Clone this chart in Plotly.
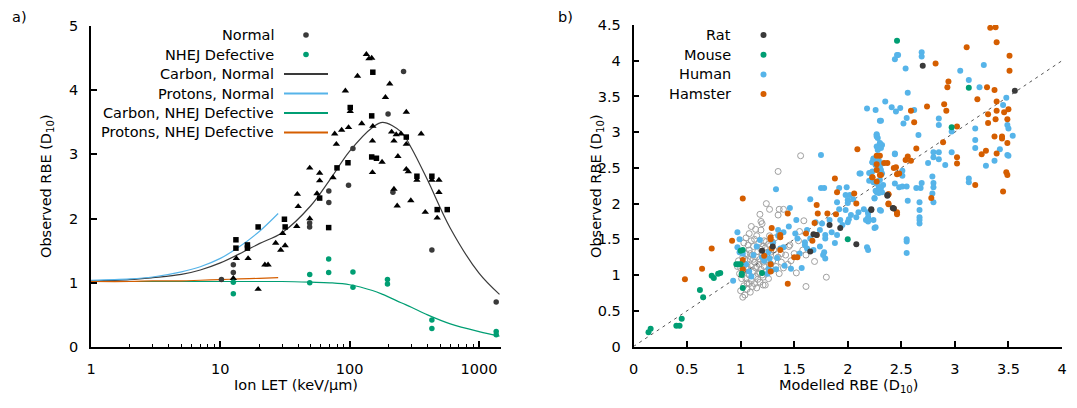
import plotly.graph_objects as go

# page has an 8px body margin, so the figure is sized to fit the 1077x408 window
W, H = 1061, 392
OFF = 8

# ---------------- Panel a) data ----------------
circle_let = [10.2, 12.6, 12.6, 49, 49, 69, 69, 98, 106, 198, 216, 261, 432, 1358]
circle_rbe = [1.05, 1.28, 1.16, 1.93, 1.87, 2.43, 2.25, 2.52, 3.09, 3.63, 2.41, 4.29, 1.51, 0.70]

square_let = [13.2, 13.2, 16.2, 16.2, 19.6, 31.3, 31.7, 58.6, 68.8, 79.8, 97, 101, 148, 148, 161, 151,
              274, 331, 432, 475, 568]
square_rbe = [1.67, 1.54, 1.59, 1.54, 1.87, 1.99, 1.87, 2.32, 1.86, 2.79, 2.87, 3.73, 3.60, 2.96, 2.94, 4.28,
              3.27, 2.66, 2.66, 2.14, 2.14]

tri_let = [13.3, 12.6, 16.4, 19.6, 22.1, 23.4, 26.8, 29.3, 31.7, 30.3, 39.4, 40, 39, 49.1, 49.1, 55.9,
           58.6, 58.6, 74.3, 76.6, 78.9, 86.7, 92.6, 98, 101, 115, 124, 134.6, 141, 148, 150, 150, 151,
           178, 189, 204, 211, 220, 220, 229, 233, 236, 249, 274, 274, 274, 284, 297, 331, 357, 384,
           432, 475, 490, 490]
tri_rbe = [1.38, 1.07, 1.38, 0.90, 1.28, 1.28, 1.62, 1.51, 1.58, 1.77, 2.38, 2.19, 1.88, 2.00, 2.79, 2.39,
           2.59, 2.71, 2.64, 3.32, 3.16, 3.38, 3.99, 3.42, 3.67, 4.22, 3.48, 4.56, 4.49, 4.50, 3.21, 2.72, 3.44,
           2.88, 3.89, 4.10, 3.35, 3.21, 2.46, 3.31, 2.20, 2.97, 3.32, 3.66, 3.16, 2.77, 2.73, 2.28, 2.60, 3.32, 2.10,
           2.60, 2.01, 2.60, 2.41]

nhej_let = [12.6, 12.6, 49.1, 49.1, 68.8, 68.8, 106, 106, 196, 196, 432, 432, 1358, 1358]
nhej_rbe = [1.01, 0.83, 1.13, 1.00, 1.37, 1.16, 1.17, 0.93, 1.05, 0.98, 0.42, 0.29, 0.24, 0.19]

carbon_let = [1, 2, 3, 5, 7, 10, 15, 20, 30, 50, 70, 100, 150, 180, 250, 300, 400, 600, 1000, 1440]
carbon_normal = [1.03, 1.05, 1.08, 1.13, 1.20, 1.31, 1.48, 1.61, 1.78, 2.20, 2.60, 3.05, 3.42, 3.50, 3.35,
                 3.10, 2.60, 1.85, 1.15, 0.82]
carbon_nhej = [1.02, 1.02, 1.02, 1.02, 1.02, 1.02, 1.02, 1.02, 1.02, 1.01, 1.00, 0.97, 0.88, 0.82, 0.69,
               0.62, 0.50, 0.36, 0.24, 0.17]

proton_let = [1, 2, 3, 5, 7, 10, 14, 20, 28]
protons_normal = [1.04, 1.06, 1.09, 1.17, 1.25, 1.38, 1.56, 1.80, 2.08]
protons_nhej = [1.02, 1.02, 1.03, 1.03, 1.04, 1.05, 1.06, 1.07, 1.08]

# ---------------- Panel b) data ----------------
rat_x = [1.20, 1.30, 1.68, 1.71, 1.65, 1.83, 1.93, 2.08, 2.22, 2.42, 2.37, 2.70, 3.56, 2.37, 2.43, 2.22]
rat_y = [1.34, 1.40, 1.57, 1.56, 1.33, 1.70, 1.66, 1.43, 1.92, 1.94, 2.12, 3.93, 3.58, 2.11, 1.93, 1.91]

mouse_x = [0.14, 0.16, 0.40, 0.43, 0.45, 0.62, 0.73, 0.79, 1.02, 1.00, 0.96, 0.98, 1.00, 1.01, 1.01, 1.02,
           1.20, 0.81, 0.75, 0.65, 2.00, 2.46, 3.13, 2.97]
mouse_y = [0.20, 0.25, 0.29, 0.29, 0.39, 0.79, 0.99, 1.02, 1.35, 1.34, 1.15, 1.15, 1.15, 1.00, 1.02, 0.82,
           1.03, 1.03, 0.96, 0.69, 1.50, 4.28, 3.62, 3.07]

human_x = [2.30, 2.27, 2.28, 2.30, 2.29, 2.32, 2.24, 2.23, 2.26, 2.30, 2.23, 2.30, 2.24, 2.33, 2.29, 2.27,
           2.32, 2.25, 2.30, 2.24, 2.19, 2.19, 2.26, 2.15, 2.11, 2.44, 2.48, 1.75, 1.33, 1.65, 1.75, 1.78,
           1.92, 1.99, 2.02, 2.00, 1.90, 1.92, 1.98, 2.03, 2.01, 2.08, 2.17, 2.00, 1.93, 1.90, 1.83, 1.76,
           1.74, 1.79, 1.79, 1.74, 1.78, 1.77, 1.79, 1.70, 1.62, 1.65, 1.60, 1.62, 1.52, 1.51, 1.53, 1.46,
           1.40, 1.40, 1.35, 1.37, 1.34, 1.33, 1.26, 1.27, 1.28, 1.26, 1.29, 0.97, 0.97, 0.99, 1.02, 0.99,
           0.93, 1.25, 1.20, 1.41, 1.47, 1.57, 2.18, 2.19, 1.98, 2.00, 2.05, 2.10,
           2.46, 2.47, 2.44, 2.69, 2.69, 2.54, 3.27, 3.05, 3.13, 3.23, 2.56, 2.35, 2.18, 2.26, 2.41, 2.45,
           2.49, 2.62, 2.55, 2.52, 2.31, 2.85, 2.85, 3.48, 3.45, 3.19, 3.49, 3.50, 3.54, 3.19, 3.19, 2.97,
           2.66, 2.27, 2.27, 2.27, 2.30, 2.31, 2.28, 2.24, 2.23, 2.29, 2.27, 2.32, 2.44, 2.80, 2.80, 2.85,
           2.85, 2.75, 2.97, 2.91, 3.42, 3.49, 3.50, 3.37, 3.29, 2.12, 2.20, 2.31, 2.32, 2.20, 2.51, 2.51,
           2.51, 2.55, 2.44, 2.28, 2.31, 2.26, 2.29, 2.25, 2.79, 2.80, 2.80, 2.79, 2.80, 2.69, 2.68, 2.64,
           2.56, 2.67, 2.67, 2.67, 2.67, 2.67, 3.13, 3.13, 2.31, 2.19, 2.19, 2.19, 2.25, 2.55, 2.55, 2.55,
           1.05, 1.08, 1.12, 1.15, 1.18, 1.22, 1.10, 1.30, 1.35, 1.45, 1.55, 1.60, 1.68, 1.85, 1.88, 1.95]
human_y = [3.16, 2.96, 2.92, 2.84, 2.80, 2.82, 2.63, 2.58, 2.54, 2.51, 2.45, 2.33, 2.30, 2.26, 2.21, 2.16,
           2.16, 2.07, 1.91, 1.77, 1.81, 1.88, 1.67, 1.92, 2.42, 2.70, 2.23, 2.68, 2.20, 2.06, 2.22, 2.22,
           2.22, 2.23, 2.12, 2.05, 2.02, 1.92, 1.91, 1.84, 1.78, 1.81, 1.77, 1.74, 1.77, 1.56, 1.77, 1.72,
           1.63, 1.56, 1.51, 1.40, 1.32, 1.28, 1.23, 1.74, 1.63, 1.51, 1.46, 1.37, 1.77, 1.58, 1.51, 1.94,
           1.60, 1.39, 1.63, 1.37, 1.24, 1.08, 1.32, 1.23, 1.16, 1.09, 1.06, 1.60, 1.39, 1.32, 1.30, 1.50,
           0.92, 1.02, 1.25, 1.13, 1.09, 1.10, 1.39, 1.35, 2.12, 2.01, 2.06, 1.88,
           4.08, 4.08, 4.02, 4.12, 4.06, 3.89, 3.94, 3.86, 3.73, 3.63, 3.55, 3.43, 3.33, 3.31, 3.35, 3.29,
           3.34, 3.31, 3.20, 3.12, 3.16, 3.19, 3.10, 3.48, 3.38, 3.05, 3.10, 3.05, 2.95, 2.89, 2.78, 3.01,
           2.96, 2.97, 2.94, 2.80, 2.85, 2.78, 2.75, 2.62, 2.58, 2.60, 2.56, 2.56, 2.69, 2.72, 2.65, 2.72,
           2.62, 2.57, 2.72, 2.54, 2.76, 2.68, 2.67, 2.60, 2.53, 2.42, 2.43, 2.47, 2.42, 2.32, 2.46, 2.39,
           2.24, 2.24, 2.28, 2.27, 2.22, 2.18, 2.15, 2.08, 2.38, 2.29, 2.23, 2.14, 2.02, 2.29, 2.22, 2.22,
           2.04, 2.02, 1.91, 1.81, 1.77, 1.72, 2.35, 2.30, 1.90, 1.86, 1.79, 1.75, 1.66, 1.50, 1.47, 1.31,
           1.15, 1.05, 1.28, 1.40, 1.49, 1.20, 0.98, 1.45, 1.55, 1.68, 1.30, 1.42, 1.35, 1.60, 1.45, 1.70]

hamster_x = [2.09, 2.30, 2.37, 2.45, 2.48, 2.27, 2.30, 2.23, 1.88, 1.90, 2.06, 2.08, 2.38, 2.38, 2.43, 2.46,
             1.71, 1.72, 1.81, 1.89, 1.69, 1.71, 1.67, 1.61, 1.44, 1.02, 1.29, 1.37, 1.37, 1.28, 1.28, 1.37,
             1.29, 1.22, 1.50, 1.53, 1.28, 1.28, 1.02, 1.02, 0.92, 0.73, 0.64, 1.44, 0.48,
             3.33, 3.38, 3.39, 3.11, 3.51, 2.82, 3.51, 2.94, 2.93, 3.30, 3.37, 3.21, 3.39, 2.90, 2.92, 2.59,
             2.74, 2.62, 3.31, 3.39, 3.46, 3.50, 3.49, 3.38, 3.31, 3.02, 3.37, 3.44, 3.44, 3.49, 2.89, 2.64,
             3.29, 3.25, 3.39, 3.02, 3.02, 2.56, 2.54, 2.59, 3.48, 3.49, 3.19, 3.45, 2.27, 2.27, 2.34, 2.43,
             2.46, 2.31, 2.23, 2.27, 2.38, 2.78, 2.38, 2.46]
hamster_y = [2.76, 2.67, 2.57, 2.51, 2.42, 2.47, 2.40, 2.37, 2.35, 2.16, 2.14, 2.00, 2.13, 2.00, 1.93, 1.85,
             1.98, 1.86, 1.86, 1.85, 1.73, 1.56, 1.48, 1.58, 1.86, 2.07, 1.66, 1.56, 1.53, 1.53, 1.50, 1.35,
             1.37, 1.27, 1.25, 1.25, 1.15, 1.05, 1.21, 1.08, 1.48, 1.37, 1.09, 0.88, 0.94,
             4.46, 4.47, 4.26, 4.19, 4.07, 3.96, 3.86, 3.71, 3.63, 3.63, 3.59, 3.46, 3.43, 3.39, 3.30, 3.30,
             3.36, 3.14, 3.25, 3.30, 3.28, 3.32, 3.18, 3.18, 3.13, 3.08, 2.94, 2.94, 2.91, 2.85, 2.86, 2.77,
             2.74, 2.69, 2.70, 2.65, 2.56, 2.66, 2.61, 2.60, 2.44, 2.40, 2.26, 2.17, 2.67, 2.55, 2.57, 2.50,
             2.41, 2.40, 2.37, 2.31, 2.13, 2.08, 1.99, 1.88]

other_x = [1.56, 1.35, 1.24, 1.27, 1.18, 1.36, 1.40, 1.35, 1.19, 1.20, 1.10, 1.14, 1.19, 1.59, 1.55, 1.54,
           1.61, 1.69, 1.80, 1.61, 1.52, 1.45, 1.46, 1.26, 1.21, 1.23, 1.02, 1.06, 1.58, 1.50, 1.38, 1.47,
           1.32, 1.30, 1.28, 1.22, 1.15, 1.08, 1.05, 1.03,
           0.98, 1.00, 1.02, 1.03, 1.04, 1.05, 1.05, 1.06, 1.07, 1.08, 1.08, 1.09, 1.10, 1.10, 1.11, 1.12,
           1.12, 1.13, 1.14, 1.14, 1.15, 1.16, 1.16, 1.17, 1.18, 1.18, 1.19, 1.20, 1.20, 1.21, 1.22, 1.23,
           1.24, 1.25, 1.26, 1.27, 1.28, 1.29, 1.30, 1.31, 1.33, 1.35, 1.36, 1.38, 1.40, 1.42, 1.44, 1.03,
           1.06, 1.09, 1.00, 1.04, 1.11, 1.15, 1.13, 1.01, 0.99, 0.97, 1.07, 1.10, 1.13, 1.17, 1.20, 1.24,
           1.27, 1.09, 1.12, 1.15, 1.18, 1.21, 1.06, 1.04, 1.02, 1.08, 1.16, 1.22, 1.25, 1.19]
other_y = [2.67, 2.45, 2.00, 1.92, 1.85, 1.92, 1.92, 1.84, 1.75, 1.72, 1.68, 1.64, 1.63, 1.76, 1.61, 1.48,
           1.28, 1.19, 0.97, 0.84, 1.03, 1.40, 1.42, 1.43, 0.86, 0.86, 0.69, 0.89, 1.35, 1.30, 1.30, 1.20,
           1.52, 1.46, 1.32, 1.48, 1.55, 1.58, 1.52, 1.45,
           1.20, 1.10, 1.25, 1.05, 1.15, 0.95, 1.30, 1.20, 1.08, 1.00, 1.35, 1.22, 1.12, 0.92, 1.28, 1.05,
           1.40, 1.18, 0.98, 1.10, 1.25, 1.33, 1.02, 1.15, 0.90, 1.22, 1.08, 1.30, 1.00, 1.18, 1.12, 1.38,
           1.05, 1.22, 0.95, 1.15, 1.28, 1.08, 1.20, 1.35, 1.12, 1.25, 1.02, 1.18, 1.10, 1.28, 1.15, 0.85,
           0.80, 0.76, 0.78, 0.72, 0.84, 0.82, 0.88, 0.95, 1.02, 1.12, 1.42, 1.48, 1.50, 1.45, 1.40, 1.47,
           1.55, 1.30, 1.22, 1.12, 1.03, 0.97, 1.12, 1.22, 1.05, 0.88, 0.94, 1.25, 1.32, 1.36]

diag = [0, 4]

x_ticks_b = [0, 0.5, 1, 1.5, 2, 2.5, 3, 3.5, 4]
y_ticks_b = [0, 0.5, 1, 1.5, 2, 2.5, 3, 3.5, 4, 4.5]

# ---------------- colours ----------------
C_DARK = "#3a3a3a"
C_GREEN = "#009E73"
C_BLUE = "#56B4E9"
C_ORANGE = "#D55E00"
C_GREY = "#a0a0a0"

FONT = "DejaVu Sans"
FS = 14.5


def px(x):
    """screen pixel x -> paper fraction"""
    return (x - OFF) / W


def py(y):
    """screen pixel y -> paper fraction"""
    return (H - (y - OFF)) / H


# plot-area pixel boxes (screen coordinates)
A_L, A_R, A_T, A_B = 91, 501, 26, 347
B_L, B_R, B_T, B_B = 633.5, 1062, 25, 346.5

fig = go.Figure()

# ---- panel a ----
fig.add_trace(go.Scatter(x=carbon_let, y=carbon_normal, mode="lines", line=dict(color=C_DARK, width=1.2, shape="spline"),
                         xaxis="x", yaxis="y", showlegend=False))
fig.add_trace(go.Scatter(x=proton_let, y=protons_normal, mode="lines", line=dict(color=C_BLUE, width=1.2, shape="spline"),
                         xaxis="x", yaxis="y", showlegend=False))
fig.add_trace(go.Scatter(x=carbon_let, y=carbon_nhej, mode="lines", line=dict(color=C_GREEN, width=1.2, shape="spline"),
                         xaxis="x", yaxis="y", showlegend=False))
fig.add_trace(go.Scatter(x=proton_let, y=protons_nhej, mode="lines", line=dict(color=C_ORANGE, width=1.2, shape="spline"),
                         xaxis="x", yaxis="y", showlegend=False))
fig.add_trace(go.Scatter(x=circle_let, y=circle_rbe, mode="markers", marker=dict(symbol="circle", size=5.5, color=C_DARK),
                         xaxis="x", yaxis="y", showlegend=False))
fig.add_trace(go.Scatter(x=square_let, y=square_rbe, mode="markers", marker=dict(symbol="square", size=5.5, color="#000"),
                         xaxis="x", yaxis="y", showlegend=False))
fig.add_trace(go.Scatter(x=tri_let, y=tri_rbe, mode="markers", marker=dict(symbol="triangle-up", size=6.5, color="#000"),
                         xaxis="x", yaxis="y", showlegend=False))
fig.add_trace(go.Scatter(x=nhej_let, y=nhej_rbe, mode="markers", marker=dict(symbol="circle", size=5.5, color=C_GREEN),
                         xaxis="x", yaxis="y", showlegend=False))

# ---- panel b ----
fig.add_trace(go.Scatter(x=other_x, y=other_y, mode="markers",
                         marker=dict(symbol="circle-open", size=6, color=C_GREY, line=dict(width=1)),
                         xaxis="x2", yaxis="y2", showlegend=False))
fig.add_trace(go.Scatter(x=diag, y=diag, mode="lines", line=dict(color="#555", width=1, dash="3px,4px"),
                         xaxis="x2", yaxis="y2", showlegend=False))
for xs, ys, c in [(human_x, human_y, C_BLUE), (hamster_x, hamster_y, C_ORANGE),
                  (rat_x, rat_y, C_DARK), (mouse_x, mouse_y, C_GREEN)]:
    fig.add_trace(go.Scatter(x=xs, y=ys, mode="markers", marker=dict(symbol="circle", size=6, color=c),
                             xaxis="x2", yaxis="y2", showlegend=False))

axis_common = dict(showline=True, linecolor="#000", linewidth=1.5, ticks="inside", ticklen=6, tickwidth=1.5,
                   tickcolor="#000", showgrid=False, zeroline=False, mirror=False, automargin=False,
                   tickfont=dict(family=FONT, size=FS, color="#000"), ticklabelstandoff=8)

fig.update_layout(
    width=W, height=H, margin=dict(l=0, r=0, t=0, b=0),
    paper_bgcolor="white", plot_bgcolor="white",
    font=dict(family=FONT, size=FS, color="#000"),
    xaxis=dict(**axis_common, type="log", range=[0, 3.17], domain=[px(A_L), px(A_R)],
               tickvals=[1, 10, 100, 1000], ticktext=["1", "10", "100", "1000"], anchor="y",
               minor=dict(ticks="inside", ticklen=3, tickwidth=1.2, tickcolor="#000",
                          tickvals=[2, 3, 4, 5, 6, 7, 8, 9, 20, 30, 40, 50, 60, 70, 80, 90,
                                    200, 300, 400, 500, 600, 700, 800, 900])),
    yaxis=dict(**axis_common, range=[0, 5], domain=[py(A_B), py(A_T)], dtick=1, anchor="x"),
    xaxis2=dict(**axis_common, range=[0, 4], domain=[px(B_L), px(B_R)], tickvals=x_ticks_b,
                ticktext=[f"{v:g}" for v in x_ticks_b], anchor="y2"),
    yaxis2=dict(**axis_common, range=[0, 4.5], domain=[py(B_B), py(B_T)], tickvals=y_ticks_b,
                ticktext=[f"{v:g}" for v in y_ticks_b], anchor="x2"),
)

annotations = [
    dict(text="a)", x=px(10), y=py(17), xanchor="left", yanchor="middle"),
    dict(text="b)", x=px(556), y=py(17), xanchor="left", yanchor="middle"),
    dict(text="Ion LET (keV/μm)", x=px(296), y=py(385), xanchor="center", yanchor="middle"),
    dict(text="Modelled RBE (D<sub>10</sub>)", x=px(848), y=py(386), xanchor="center", yanchor="middle"),
    dict(text="Observed RBE (D<sub>10</sub>)", x=px(47), y=py(186), xanchor="center", yanchor="middle", textangle=-90),
    dict(text="Observed RBE (D<sub>10</sub>)", x=px(597), y=py(186), xanchor="center", yanchor="middle", textangle=-90),
]
shapes = []

# legend a
leg_a = [("Normal", "dot", C_DARK), ("NHEJ Defective", "dot", C_GREEN),
         ("Carbon, Normal", "line", C_DARK), ("Protons, Normal", "line", C_BLUE),
         ("Carbon, NHEJ Defective", "line", C_GREEN), ("Protons, NHEJ Defective", "line", C_ORANGE)]
for i, (lab, kind, col) in enumerate(leg_a):
    yy = 35 + 19.5 * i
    annotations.append(dict(text=lab, x=px(276), y=py(yy), xanchor="right", yanchor="middle"))
    if kind == "line":
        shapes.append(dict(type="line", xref="paper", yref="paper", x0=px(284), x1=px(328), y0=py(yy), y1=py(yy),
                           line=dict(color=col, width=2)))
    else:
        r = 2.8
        shapes.append(dict(type="circle", xref="paper", yref="paper", x0=px(306 - r), x1=px(306 + r),
                           y0=py(yy + r), y1=py(yy - r), fillcolor=col, line=dict(width=0)))

# legend b
leg_b = [("Rat", C_DARK), ("Mouse", C_GREEN), ("Human", C_BLUE), ("Hamster", C_ORANGE)]
for i, (lab, col) in enumerate(leg_b):
    yy = 35 + 19.7 * i
    annotations.append(dict(text=lab, x=px(733), y=py(yy), xanchor="right", yanchor="middle"))
    r = 3
    shapes.append(dict(type="circle", xref="paper", yref="paper", x0=px(763.5 - r), x1=px(763.5 + r),
                       y0=py(yy + r), y1=py(yy - r), fillcolor=col, line=dict(width=0)))

for a in annotations:
    a.update(xref="paper", yref="paper", showarrow=False, font=dict(family=FONT, size=FS, color="#000"))

fig.update_layout(annotations=annotations, shapes=shapes)
fig.write_html("out.html")
